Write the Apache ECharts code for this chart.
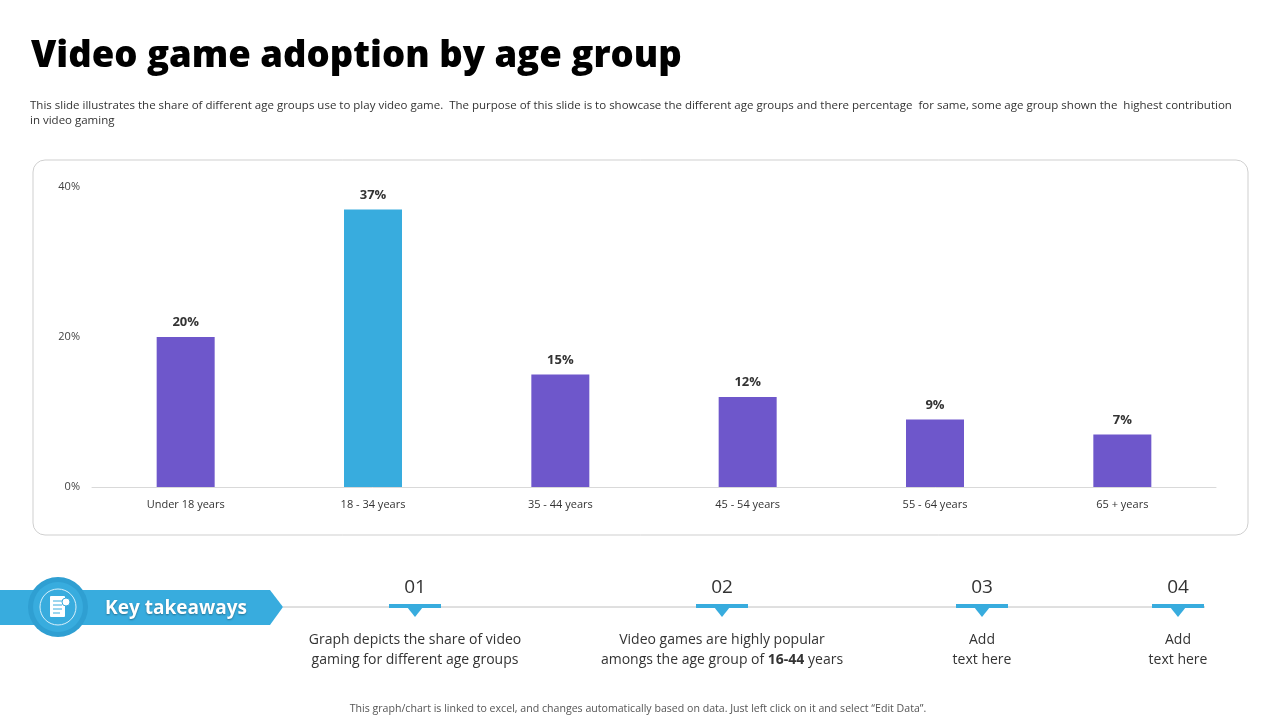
<!DOCTYPE html>
<html><head><meta charset="utf-8">
<script src="https://cdn.jsdelivr.net/npm/echarts@6/dist/echarts.min.js"></script>
<style>html,body{margin:0;padding:0;background:#fff}#c{width:1280px;height:720px}</style>
</head><body><div id="c"></div>
<script>
const categories = ['Under 18 years', '18 - 34 years', '35 - 44 years', '45 - 54 years', '55 - 64 years', '65 + years'];
const shares = [20, 37, 15, 12, 9, 7];
const yTicks = [0, 20, 40];
const takeawayNums = ['01', '02', '03', '04'];
const takeawayText = [
  ['Graph depicts the share of video', 'gaming for different age groups'],
  ['Video games are highly popular', 'amongs the age group of {b|16-44} years'],
  ['Add', 'text here'],
  ['Add', 'text here']
];
const takeawayX = [415, 722, 982, 1178];

const PURPLE = '#6e57cb', BLUE = '#38acde';
const chart = echarts.init(document.getElementById('c'));
const FONT = '"Open Sans", "Noto Sans", sans-serif';

const graphics = [
  {type:'text', left:31, top:38, style:{text:'Video game adoption by age group', font:'800 36.5px "Open Sans", sans-serif', fill:'#000'}},
  {type:'text', left:30, top:98, style:{text:'This slide illustrates the share of different age groups use to play video game.  The purpose of this slide is to showcase the different age groups and there percentage  for same, some age group shown the  highest contribution\nin video gaming', font:'11.5px "Open Sans", sans-serif', fill:'#333', lineHeight:15}},
  {type:'rect', shape:{x:33, y:160, width:1215, height:375, r:12}, style:{fill:'#fff', stroke:'#cfcfcf', lineWidth:1}, z:-10},
  {type:'line', shape:{x1:283, y1:607, x2:1205, y2:607}, style:{stroke:'#c0c0c0', lineWidth:1}},
  {type:'polygon', shape:{points:[[0,590],[270,590],[283,607],[270,625],[0,625]]}, style:{fill:BLUE}},
  {type:'circle', shape:{cx:58, cy:607, r:30}, style:{fill:'#2f9fd2'}},
  {type:'circle', shape:{cx:58, cy:607, r:25}, style:{fill:BLUE}},
  {type:'circle', shape:{cx:58, cy:607, r:18}, style:{fill:'none', stroke:'#d8f0fb', lineWidth:1}},
  {type:'rect', shape:{x:50, y:596, width:15, height:21, r:1}, style:{fill:'#fff'}},
  {type:'line', shape:{x1:53, y1:601, x2:62, y2:601}, style:{stroke:BLUE, lineWidth:1}},
  {type:'line', shape:{x1:53, y1:605, x2:62, y2:605}, style:{stroke:BLUE, lineWidth:1}},
  {type:'line', shape:{x1:53, y1:609, x2:62, y2:609}, style:{stroke:BLUE, lineWidth:1}},
  {type:'line', shape:{x1:53, y1:613, x2:60, y2:613}, style:{stroke:BLUE, lineWidth:1}},
  {type:'circle', shape:{cx:66, cy:602, r:4}, style:{fill:'#fff', stroke:BLUE, lineWidth:1}},
  {type:'text', x:176, y:609, style:{text:'Key takeaways', font:'bold 19px "Open Sans", sans-serif', fill:'#fff', align:'center', verticalAlign:'middle', textShadowColor:'rgba(0,0,0,0.35)', textShadowBlur:2, textShadowOffsetY:1}},
  {type:'text', x:638, y:709, style:{text:'This graph/chart is linked to excel, and changes automatically based on data. Just left click on it and select \u201cEdit Data\u201d.', font:'10.6px "Open Sans", sans-serif', fill:'#555', align:'center', verticalAlign:'middle'}}
];
takeawayX.forEach((x, i) => {
  graphics.push({type:'text', x:x, y:588, style:{text:takeawayNums[i], font:'19px "Open Sans", sans-serif', fill:'#333', align:'center', verticalAlign:'middle'}});
  graphics.push({type:'rect', shape:{x:x-26, y:604, width:52, height:4}, style:{fill:BLUE}});
  graphics.push({type:'polygon', shape:{points:[[x-8,607],[x+8,607],[x,617]]}, style:{fill:BLUE}});
  graphics.push({type:'text', x:x, y:650, style:{text:takeawayText[i].join('\n'), font:'14px "Open Sans", sans-serif', fill:'#333', align:'center', verticalAlign:'middle', lineHeight:20, rich:{b:{font:'bold 14px "Open Sans", sans-serif', fill:'#333'}}}});
});

chart.setOption({
  animation:false,
  textStyle:{fontFamily:FONT},
  grid:{left:92, right:64, top:187, bottom:233},
  xAxis:{type:'category', data:categories, axisTick:{show:false}, axisLine:{lineStyle:{color:'#d9d9d9'}},
    axisLabel:{color:'#333', fontSize:11, margin:12}},
  yAxis:{type:'value', min:0, max:40, interval:20, splitLine:{show:false}, axisLine:{show:false}, axisTick:{show:false},
    axisLabel:{color:'#444', fontSize:11, formatter:v => yTicks.includes(v) ? v + '%' : '', margin:12}},
  series:[{type:'bar', barWidth:58,
    data:shares.map((v,i)=>({value:v, itemStyle:{color: i===1 ? BLUE : PURPLE}})),
    label:{show:true, position:'top', distance:8, formatter:p=>p.value+'%', fontWeight:'bold', fontSize:13, color:'#333'}}],
  graphic:graphics
});
</script></body></html>
